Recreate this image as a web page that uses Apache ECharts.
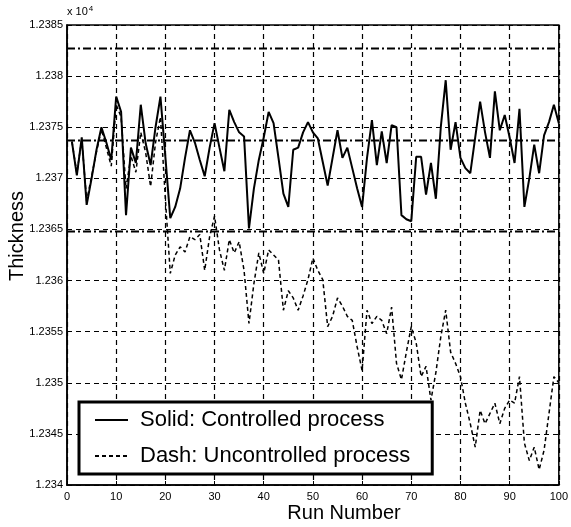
<!DOCTYPE html>
<html>
<head>
<meta charset="utf-8">
<script src="https://cdn.jsdelivr.net/npm/echarts@6/dist/echarts.min.js"></script>
<style>
  html, body { margin: 0; padding: 0; background: #fff; }
  #main { width: 571px; height: 527px; }
</style>
</head>
<body>
<div id="main"></div>
<script>
// thickness, in units of 10^4
var runs = [];
for (let i = 1; i <= 100; i++) runs.push(i);

var controlled = [
  1.23736, 1.23703, 1.23740, 1.23674, 1.23700, 1.23728, 1.23750, 1.23735, 1.23718, 1.23780,
  1.23765, 1.23664, 1.23730, 1.23715, 1.23772, 1.23734, 1.23713, 1.23750, 1.23780, 1.23721,
  1.23661, 1.23672, 1.23690, 1.23720, 1.23747, 1.23735, 1.23718, 1.23702, 1.23730, 1.23754,
  1.23730, 1.23707, 1.23767, 1.23755, 1.23745, 1.23741, 1.23651, 1.23690, 1.23718, 1.23740,
  1.23765, 1.23754, 1.23720, 1.23685, 1.23672, 1.23728, 1.23730, 1.23745, 1.23755, 1.23745,
  1.23739, 1.23716, 1.23693, 1.23720, 1.23747, 1.23720, 1.23730, 1.23710, 1.23690, 1.23672,
  1.23720, 1.23757, 1.23713, 1.23746, 1.23715, 1.23752, 1.23750, 1.23664, 1.23660, 1.23658,
  1.23721, 1.23721, 1.23684, 1.23715, 1.23680, 1.23750, 1.23796, 1.23728, 1.23755, 1.23720,
  1.23710, 1.23705, 1.23740, 1.23775, 1.23745, 1.23720, 1.23785, 1.23747, 1.23762, 1.23740,
  1.23715, 1.23768, 1.23672, 1.23700, 1.23733, 1.23705, 1.23742, 1.23755, 1.23772, 1.23754
];

var uncontrolled = [
  1.23736, 1.23705, 1.23738, 1.23678, 1.23702, 1.23726, 1.23748, 1.23730, 1.23712, 1.23772,
  1.23760, 1.23690, 1.23722, 1.23706, 1.23745, 1.23725, 1.23692, 1.23735, 1.23760, 1.23680,
  1.23607, 1.23625, 1.23633, 1.23628, 1.23643, 1.23640, 1.23645, 1.23610, 1.23643, 1.23663,
  1.23630, 1.23610, 1.23640, 1.23627, 1.23638, 1.23610, 1.23558, 1.23597, 1.23627, 1.23607,
  1.23630, 1.23625, 1.23620, 1.23571, 1.23590, 1.23583, 1.23571, 1.23585, 1.23601, 1.23622,
  1.23610, 1.23601, 1.23555, 1.23565, 1.23583, 1.23575, 1.23565, 1.23561, 1.23535, 1.23512,
  1.23571, 1.23558, 1.23565, 1.23561, 1.23548, 1.23574, 1.23519, 1.23503, 1.23530, 1.23555,
  1.23539, 1.23506, 1.23516, 1.23483, 1.23510, 1.23545, 1.23571, 1.23530, 1.23519, 1.23506,
  1.23480, 1.23460, 1.23437, 1.23473, 1.23460, 1.23470, 1.23480, 1.23460, 1.23475, 1.23483,
  1.23480, 1.23506, 1.23441, 1.23424, 1.23437, 1.23415, 1.23434, 1.23470, 1.23506, 1.23500
];

// upper limit, centre line, lower limit
var limits = [1.23827, 1.23737, 1.23648];

var seriesNames = ['Solid: Controlled process', 'Dash: Uncontrolled process'];

function pairs(ys) {
  return runs.map(function (r, i) { return [r, ys[i]]; });
}

var gridDash = { color: '#000', type: [5, 4], width: 1.2 };

var limitSeries = limits.map(function (v, i) {
  return {
    name: 'limit' + i, type: 'line', symbol: 'none', silent: true,
    data: [[0, v], [100, v]],
    lineStyle: { color: '#000', width: 2, type: [8, 3, 2, 3] },
    z: 1
  };
});

echarts.init(document.getElementById('main')).setOption({
  animation: false,
  backgroundColor: '#fff',
  textStyle: { fontFamily: 'Liberation Sans, Arial, sans-serif', color: '#000' },
  grid: { left: 67, right: 7, top: 25, bottom: 42, show: true, borderColor: '#000', borderWidth: 1.5 },
  xAxis: {
    type: 'value', min: 0, max: 100, interval: 10,
    axisLine: { lineStyle: { color: '#000', width: 1.5 } },
    axisTick: { inside: true, length: 4, lineStyle: { color: '#000' } },
    axisLabel: { color: '#000', fontSize: 11, margin: 6 },
    splitLine: { show: true, lineStyle: gridDash }
  },
  yAxis: {
    type: 'value', min: 1.234, max: 1.2385, interval: 0.0005,
    axisLine: { lineStyle: { color: '#000', width: 1.5 } },
    axisTick: { inside: true, length: 4, lineStyle: { color: '#000' } },
    axisLabel: {
      color: '#000', fontSize: 11, margin: 4,
      formatter: function (v) { return String(parseFloat(v.toFixed(4))); }
    },
    splitLine: { show: true, lineStyle: gridDash }
  },
  legend: {
    data: seriesNames,
    orient: 'vertical',
    left: 79, top: 402,
    padding: [7, 22, 7, 15],
    itemWidth: 33, itemHeight: 14, itemGap: 14,
    itemStyle: { opacity: 0 },
    backgroundColor: '#fff',
    borderColor: '#000', borderWidth: 3, borderRadius: 0,
    textStyle: { fontSize: 22, color: '#000', padding: [0, 0, 0, 7] }
  },
  graphic: [
    { type: 'text', left: 67, top: 5,
      style: { text: 'x 10{s|4}', fontSize: 11, fill: '#000',
        rich: { s: { fontSize: 8, verticalAlign: 'top', padding: [0, 0, 6, 1] } } } },
    { type: 'text', x: 27, y: 236, rotation: Math.PI / 2, originX: 0, originY: 0,
      style: { text: 'Thickness', fontSize: 20, fill: '#000', align: 'center', verticalAlign: 'bottom' } },
    { type: 'text', x: 344, y: 513,
      style: { text: 'Run Number', fontSize: 20, fill: '#000', align: 'center', verticalAlign: 'middle' } }
  ],
  series: [
    {
      name: seriesNames[0], type: 'line', symbol: 'none',
      data: pairs(controlled),
      lineStyle: { color: '#000', width: 2 },
      itemStyle: { color: '#000' },
      z: 3
    },
    {
      name: seriesNames[1], type: 'line', symbol: 'none',
      data: pairs(uncontrolled),
      lineStyle: { color: '#000', width: 1.5, type: [4, 3] },
      itemStyle: { color: '#000' },
      z: 2
    }
  ].concat(limitSeries)
});
</script>
</body>
</html>
